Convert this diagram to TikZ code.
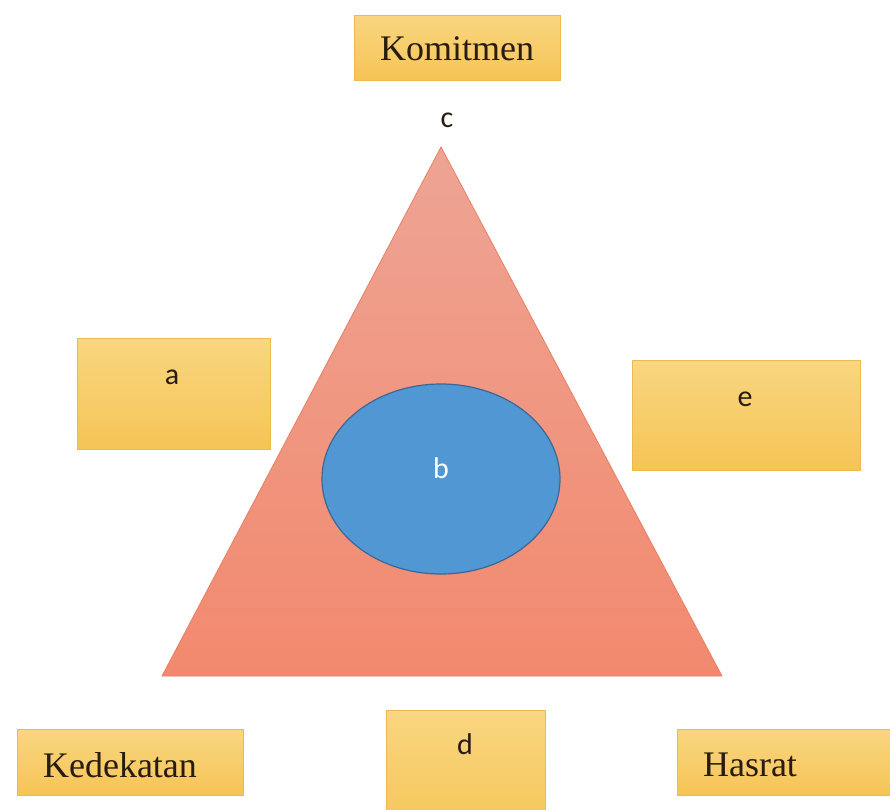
\documentclass[tikz,border=0pt]{standalone}
\usepackage{fontspec}
\setmainfont{Liberation Serif}
\newfontfamily\labelfont{Carlito}
\usetikzlibrary{shapes.geometric}

\definecolor{boxtop}{RGB}{249,214,128}
\definecolor{boxbot}{RGB}{246,196,86}
\definecolor{boxline}{RGB}{236,186,78}
\definecolor{tritop}{RGB}{238,164,148}
\definecolor{tribot}{RGB}{242,137,110}
\definecolor{triline}{RGB}{232,128,100}
\definecolor{blobfill}{RGB}{80,151,212}
\definecolor{blobline}{RGB}{58,104,150}
\definecolor{inktext}{RGB}{40,28,16}

\begin{document}
\begin{tikzpicture}[x=1pt, y=-1pt,
    termbox/.style={draw=boxline, line width=1pt, top color=boxtop, bottom color=boxbot,
                    minimum width=#1, inner sep=0pt},
    termbox/.default=200pt,
    serifterm/.style={font=\fontsize{36}{40}\selectfont, text=inktext},
    letter/.style={font=\labelfont\fontsize{30}{34}\selectfont, text=inktext}]
    \useasboundingbox (0,0) rectangle (890,809);

    % Triangle
    \coordinate (apex) at (441,147);
    \coordinate (left) at (162,676);
    \coordinate (right) at (722,676);
    \path[draw=triline, line width=0.8pt, top color=tritop, bottom color=tribot]
        (apex) -- (left) -- (right) -- cycle;

    % Ellipse in the middle
    \node[ellipse, draw=blobline, line width=1.2pt, fill=blobfill,
          minimum width=238pt, minimum height=190pt] (core) at (441,479) {};
    \node[letter, text=white] (b) at (441,468) {b};

    % Top
    \node[termbox=206pt, minimum height=65pt] (komitmenbox) at (457,47.5) {};
    \node[serifterm] (komitmen) at (457,49) {Komitmen};
    \node[letter] (c) at (447,120) {c};

    % Sides
    \node[termbox=193pt, minimum height=111pt] (abox) at (173.5,393.5) {};
    \node[letter] (a) at (172,377) {a};
    \node[termbox=228pt, minimum height=110pt] (ebox) at (746,415) {};
    \node[letter] (e) at (745,399) {e};

    % Bottom row
    \node[termbox=226pt, minimum height=66pt] (kedekatanbox) at (130,762) {};
    \node[serifterm] (kedekatan) at (120,765) {Kedekatan};
    \node[termbox=159pt, minimum height=130pt] (dbox) at (465.5,775) {};
    \node[letter] (d) at (465,744) {d};
    \node[termbox=260pt, minimum height=66pt] (hasratbox) at (807,762) {};
    \node[serifterm] (hasrat) at (750,765) {Hasrat};
\end{tikzpicture}
\end{document}
